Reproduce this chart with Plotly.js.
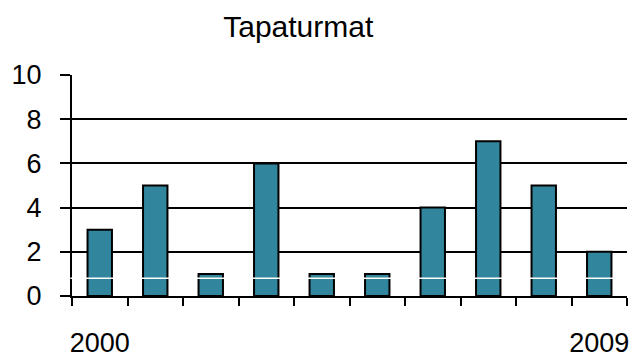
<!DOCTYPE html>
<html>
<head>
<meta charset="utf-8">
<script src="https://cdn.plot.ly/plotly-3.0.1.min.js"></script>
<style>html,body{margin:0;padding:0;background:#fff;}#chart{width:636px;height:359px;}</style>
</head>
<body>
<div id="chart"></div>
<script>
const years = ['2000','2001','2002','2003','2004','2005','2006','2007','2008','2009'];
const accidents = [3, 5, 1, 6, 1, 1, 4, 7, 5, 2];
const tickLabels = ['2000','','','','','','','','','2009'];
const yTicks = [0, 2, 4, 6, 8, 10];

const trace = {
  type: 'bar',
  x: years,
  y: accidents,
  width: 0.44,
  marker: {color: '#31869d', line: {color: '#000000', width: 2}},
  hoverinfo: 'none'
};

const layout = {
  width: 636, height: 359,
  margin: {l: 72, r: 9, t: 75, b: 63},
  paper_bgcolor: '#ffffff', plot_bgcolor: '#ffffff',
  font: {family: 'Liberation Sans, Arial, sans-serif', size: 27, color: '#000'},
  title: {text: 'Tapaturmat', font: {size: 30, color: '#000'}, x: 0.469, xanchor: 'center', xref: 'container', y: 0.925, yanchor: 'middle', yref: 'container'},
  showlegend: false,
  xaxis: {
    type: 'category',
    tickmode: 'array', tickvals: years, ticktext: tickLabels,
    tickangle: 0,
    tickson: 'boundaries', ticks: 'outside', ticklen: 8, tickwidth: 2, tickcolor: '#000',
    showline: true, linecolor: '#000', linewidth: 2,
    showgrid: false, zeroline: false,
    ticklabelstandoff: 22,
    tickfont: {size: 27}
  },
  yaxis: {
    range: [0, 10],
    tickmode: 'array', tickvals: yTicks,
    ticks: 'outside', ticklen: 10, tickwidth: 2, tickcolor: '#000',
    showline: true, linecolor: '#000', linewidth: 2,
    showgrid: true, gridcolor: '#000', gridwidth: 2,
    zeroline: false,
    ticklabelstandoff: 13,
    tickfont: {size: 27}
  },
  shapes: [{
    type: 'line', xref: 'paper', yref: 'y', x0: -0.003, x1: 1, y0: 0.8, y1: 0.8,
    line: {color: '#ffffff', width: 1.5}, layer: 'above'
  }]
};

Plotly.newPlot('chart', [trace], layout, {staticPlot: true, displayModeBar: false});
</script>
</body>
</html>
